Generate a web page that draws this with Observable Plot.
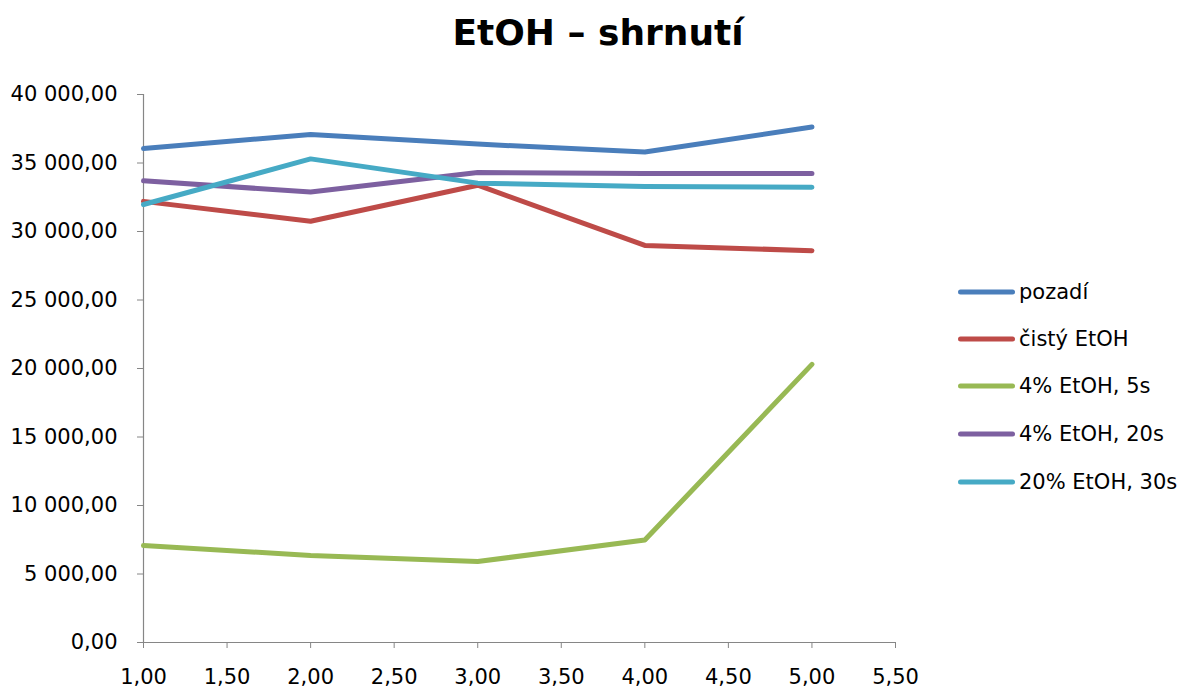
<!DOCTYPE html>
<html>
<head>
<meta charset="utf-8">
<script src="https://cdn.jsdelivr.net/npm/d3@7"></script>
<script src="https://cdn.jsdelivr.net/npm/@observablehq/plot@0.6"></script>
<style>
  html, body { margin: 0; padding: 0; background: #fff; }
  #wrap { position: relative; width: 1180px; height: 690px; font-family: "DejaVu Sans", sans-serif; }
  #title { position: absolute; left: 0; top: 12px; width: 1196px; text-align: center; font-weight: bold; font-size: 36px; line-height: 42px; color: #000; }
  #legend { position: absolute; left: 958px; top: 0; }
  .row { position: absolute; left: 0; height: 24px; display: flex; align-items: center; white-space: nowrap; font-size: 21px; color: #000; }
  .row svg { display: block; margin-right: 4px; }
  #chart { position: absolute; left: 0; top: 0; }
</style>
</head>
<body>
<div id="wrap">
  <div id="chart"></div>
  <div id="title">EtOH – shrnutí</div>
  <div id="legend"></div>
</div>
<script>
// ---- data ----
const xValues = [1, 2, 3, 4, 5];
const seriesNames = ["pozadí", "čistý EtOH", "4% EtOH, 5s", "4% EtOH, 20s", "20% EtOH, 30s"];
const pozadi    = [36050, 37080, 36380, 35800, 37630];
const cistyEtOH = [32200, 30750, 33380, 28980, 28600];
const etoh4_5s  = [7080, 6350, 5910, 7480, 20300];
const etoh4_20s = [33700, 32880, 34300, 34240, 34240];
const etoh20_30s = [31970, 35300, 33530, 33280, 33230];
const seriesColors = ["#4a7ebb", "#be4b48", "#98b954", "#7d60a0", "#46aac5"];
const xTicks = [1, 1.5, 2, 2.5, 3, 3.5, 4, 4.5, 5, 5.5];
const yTicks = [0, 5000, 10000, 15000, 20000, 25000, 30000, 35000, 40000];

const allSeries = [pozadi, cistyEtOH, etoh4_5s, etoh4_20s, etoh20_30s];
const rows = [];
allSeries.forEach((vals, si) => {
  vals.forEach((v, i) => rows.push({series: seriesNames[si], x: xValues[i], y: v}));
});

const loc = d3.formatLocale({decimal: ",", thousands: "\u00a0", grouping: [3], currency: ["", ""]});
const fmtY = loc.format(",.2f");
const fmtX = loc.format(".2f");
const axisGray = "#868686";

const plot = Plot.plot({
  width: 1180,
  height: 690,
  marginLeft: 143,
  marginRight: 285,
  marginTop: 94,
  marginBottom: 48,
  style: {fontFamily: "DejaVu Sans, sans-serif", fontSize: "21px", color: "#000", background: "transparent", overflow: "visible"},
  x: {domain: [1, 5.5]},
  y: {domain: [0, 40000]},
  color: {domain: seriesNames, range: seriesColors},
  marks: [
    Plot.ruleX([1], {stroke: axisGray, strokeWidth: 1.2}),
    Plot.ruleY([0], {stroke: axisGray, strokeWidth: 1.2}),
    Plot.axisY({ticks: yTicks, tickFormat: fmtY, tickSize: 6, tickPadding: 20, stroke: axisGray, fill: "#000", label: null, fontSize: 21}),
    Plot.axisX({ticks: xTicks, tickFormat: fmtX, tickSize: 6, tickPadding: 21, stroke: axisGray, fill: "#000", label: null, fontSize: 21}),
    Plot.line(rows, {x: "x", y: "y", z: "series", stroke: "series", strokeWidth: 5, strokeLinecap: "round", strokeLinejoin: "round"})
  ]
});
document.getElementById("chart").appendChild(plot);

// legend
const legend = document.getElementById("legend");
const legendTops = [280, 327, 374, 422, 470];
seriesNames.forEach((name, i) => {
  const row = document.createElement("div");
  row.className = "row";
  row.style.top = legendTops[i] + "px";
  row.innerHTML = `<svg width="57" height="10"><line x1="2.5" y1="5" x2="54.5" y2="5" stroke="${seriesColors[i]}" stroke-width="5" stroke-linecap="round"/></svg><span>${name}</span>`;
  legend.appendChild(row);
});
</script>
</body>
</html>
